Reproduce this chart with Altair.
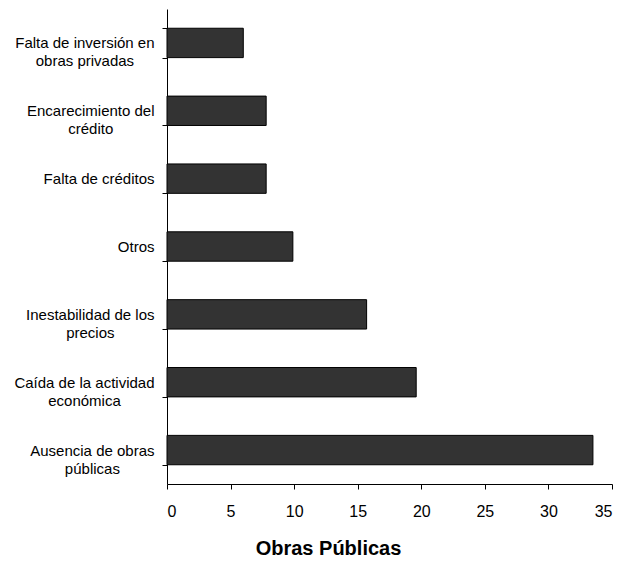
import altair as alt
import pandas as pd

categories = [
    "Falta de inversión en|obras privadas",
    "Encarecimiento del|crédito",
    "Falta de créditos",
    "Otros",
    "Inestabilidad de los|precios",
    "Caída de la actividad|económica",
    "Ausencia de obras|públicas",
]
values = [6.0, 7.8, 7.8, 9.9, 15.7, 19.6, 33.5]
x_ticks = [0, 5, 10, 15, 20, 25, 30, 35]

df = pd.DataFrame({"cat": categories, "val": values})

FONT = "Liberation Sans"
LABEL_SIZE = 15
TICK = 5
GAP = 8

# Arial / Liberation Sans advance widths (per 1000 em), used to centre the
# lines of each multi-line label on one another, as in the reference.
W = {" ": 278, "a": 556, "b": 556, "c": 500, "d": 556, "e": 556, "f": 278,
     "g": 556, "h": 556, "i": 222, "l": 222, "m": 833, "n": 556, "o": 556,
     "p": 556, "q": 556, "r": 333, "s": 500, "t": 278, "u": 556, "v": 500,
     "y": 500, "á": 556, "é": 556, "í": 278, "ó": 556, "ú": 556,
     "A": 667, "C": 722, "E": 667, "F": 611, "I": 278, "O": 778, "P": 667}


def text_w(s):
    return sum(W.get(ch, 556) for ch in s) * LABEL_SIZE / 1000.0


conds = []
for c in categories:
    wmax = max(text_w(line) for line in c.split("|"))
    conds.append({"test": f"datum.value === '{c}'", "value": GAP + wmax / 2.0})

chart = alt.Chart(df).mark_bar(
    color="#333333", stroke="#000000", strokeWidth=1
).encode(
    y=alt.Y(
        "cat:N",
        sort=categories,
        scale=alt.Scale(paddingInner=0.567, paddingOuter=0.2835),
        axis=alt.Axis(
            title=None,
            tickBand="extent",
            tickSize=TICK,
            labelPadding={"condition": conds, "value": GAP},
            labelAlign="center",
            labelFont=FONT,
            labelFontSize=LABEL_SIZE,
            labelColor="#000000",
            labelLineHeight=18,
            labelLimit=300,
            labelExpr="datum.value ? split(datum.value, '|') : ''",
            domainColor="#000000",
            tickColor="#000000",
            grid=False,
        ),
    ),
    x=alt.X(
        "val:Q",
        scale=alt.Scale(domain=[0, 35], nice=False),
        axis=alt.Axis(
            title="Obras Públicas",
            values=x_ticks,
            tickSize=TICK,
            labelPadding=14,
            labelFont=FONT,
            labelFontSize=16,
            labelColor="#000000",
            domainColor="#000000",
            tickColor="#000000",
            grid=False,
            titleFont=FONT,
            titleFontSize=20,
            titleFontWeight="bold",
            titleColor="#000000",
            titleX=161,
            titleY=70,
            titleAlign="center",
            titleBaseline="alphabetic",
        ),
    ),
).properties(
    width=445,
    height=475,
    autosize=alt.AutoSizeParams(type="none"),
    padding={"left": 159, "top": 1, "right": 10, "bottom": 74},
).configure_view(stroke=None)

chart.save("out.html", embed_options={"renderer": "svg", "actions": False})
